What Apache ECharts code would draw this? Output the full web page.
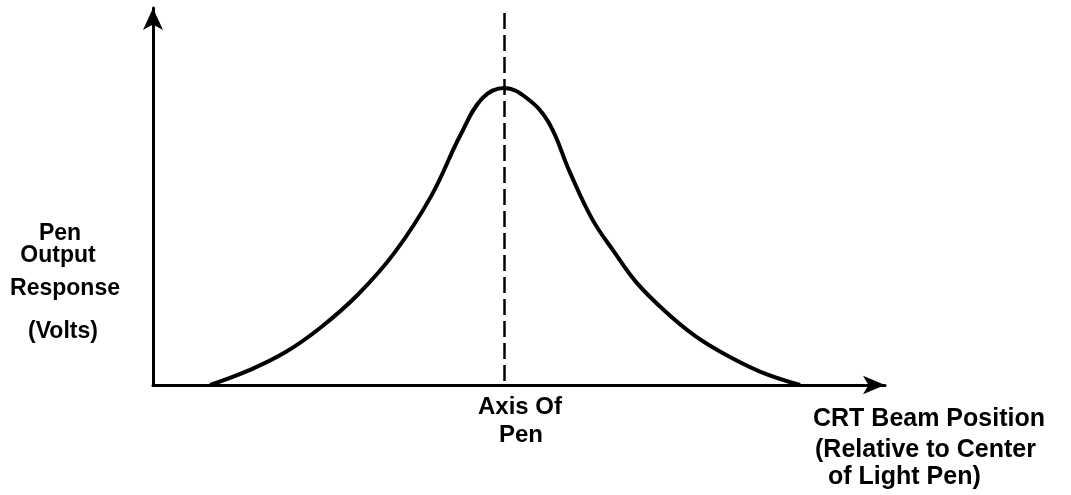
<!DOCTYPE html>
<html lang="en">
<head>
    <meta charset="UTF-8">
    <style>
        html, body { margin: 0; padding: 0; background: #fff; }
        #main { width: 1071px; height: 495px; }
    </style>
    <script src="https://cdn.jsdelivr.net/npm/echarts@6/dist/echarts.min.js"></script>
    <title>Light pen response</title>
</head>
<body>
    <div id="main"></div>
    <script>
        // beam position, relative to the pen axis (0)
        var beamPos = [-40.2, -35, -30, -25, -20, -15, -10, -6, -3, 0,
                       3, 6, 9, 12, 15, 18, 22, 26, 30, 35, 40.4];
        // pen output (volts, arbitrary units)
        var response = [0, 3.8, 8.6, 15.4, 24.0, 35.1, 50.1, 66.3, 76.1, 78.8,
                        76.2, 69.8, 56.2, 44.0, 35.3, 27.3, 19.5, 13.1, 8.3, 3.5, 0];
        var xRange = [-48, 52];
        var yRange = [0, 100];
        var penAxis = 0;
        var dashTop = 98.7;

        var yLabels = ['Pen', 'Output', 'Response', '(Volts)'];
        var xLabels = ['CRT Beam Position', '(Relative to Center', 'of Light Pen)'];
        var axisLabels = ['Axis Of', 'Pen'];

        var font = '"Liberation Sans", Arial, sans-serif';
        var points = beamPos.map(function (x, i) { return [x, response[i]]; });

        function txt(text, x, y, size, align) {
            return {
                type: 'text',
                style: {
                    text: text, x: x, y: y,
                    fontFamily: font, fontWeight: 'bold', fontSize: size,
                    fill: '#000', textAlign: align || 'center', textVerticalAlign: 'middle'
                }
            };
        }

        var myChart = echarts.init(document.getElementById('main'));
        var option = {
            animation: false,
            backgroundColor: '#fff',
            grid: { left: 153, right: 186, top: 8, bottom: 110 },
            xAxis: {
                type: 'value',
                min: xRange[0], max: xRange[1],
                axisLine: { show: true, onZero: false, symbol: ['none', 'arrow'], symbolSize: [14, 22],
                            lineStyle: { color: '#000', width: 3 } },
                axisTick: { show: false },
                axisLabel: { show: false },
                splitLine: { show: false }
            },
            yAxis: {
                type: 'value',
                min: yRange[0], max: yRange[1],
                axisLine: { show: true, onZero: false, symbol: ['none', 'arrow'], symbolSize: [15, 22],
                            lineStyle: { color: '#000', width: 3 } },
                axisTick: { show: false },
                axisLabel: { show: false },
                splitLine: { show: false }
            },
            series: [{
                type: 'line',
                data: points,
                smooth: 0.4,
                showSymbol: false,
                lineStyle: { color: '#000', width: 4 },
                markLine: {
                    silent: true,
                    symbol: ['none', 'none'],
                    label: { show: false },
                    lineStyle: { color: '#000', width: 2.5, type: [16, 6] },
                    data: [[{ coord: [penAxis, dashTop] }, { coord: [penAxis, 0] }]]
                }
            }],
            graphic: [
                txt(yLabels[0], 60, 234, 23),
                txt(yLabels[1], 58, 256, 23),
                txt(yLabels[2], 65, 289, 23),
                txt(yLabels[3], 63, 332, 23),
                txt(axisLabels[0], 520, 407, 24),
                txt(axisLabels[1], 521, 435, 24),
                txt(xLabels[0], 813, 419, 25, 'left'),
                txt(xLabels[1], 815, 450, 25, 'left'),
                txt(xLabels[2], 828, 477, 25, 'left')
            ]
        };
        myChart.setOption(option);
    </script>
</body>
</html>
